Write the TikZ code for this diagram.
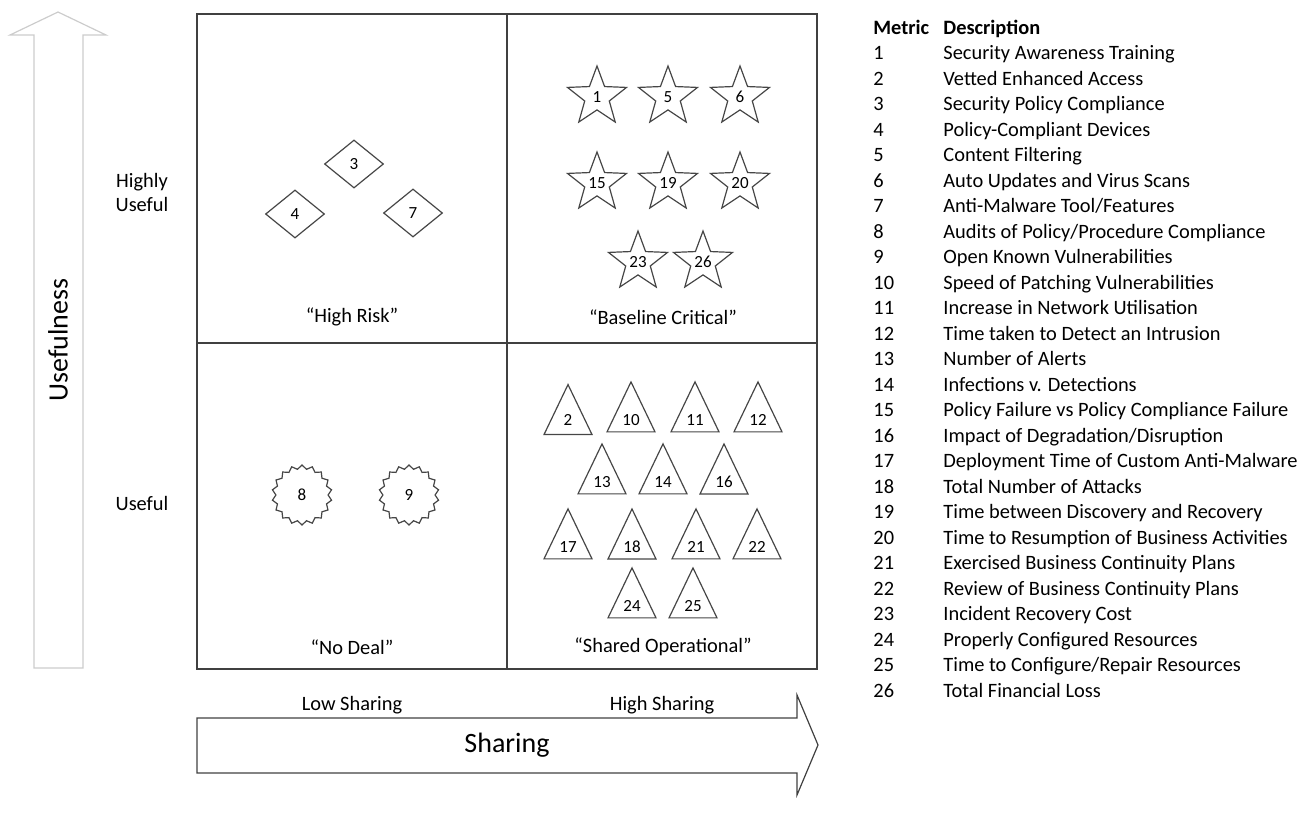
\documentclass[tikz,border=0pt]{standalone}
\usepackage{fontspec}
\setmainfont{Carlito}
\usepackage{tikz}
\usetikzlibrary{shapes.geometric}
\definecolor{gridgray}{RGB}{64,64,64}
\definecolor{shapegray}{RGB}{70,70,70}

\tikzset{
  metric/.style={draw=shapegray, line width=0.6pt, inner sep=0pt, font=\fontsize{8.5}{9}\selectfont},
  starmetric/.style={metric, star, star points=5, star point ratio=2.4, minimum size=31pt},
  diamondmetric/.style={metric, diamond, minimum width=29.5pt, minimum height=24pt},
  sealmetric/.style={metric, star, star points=18, star point ratio=1.15, minimum size=30pt},
  trimetric/.style={metric, isosceles triangle, isosceles triangle stretches, shape border rotate=90,
    minimum width=24pt, minimum height=25pt},
  label/.style={font=\fontsize{10.2}{12}\selectfont, align=center},
  legend/.style={font=\fontsize{10.2}{12}\selectfont, anchor=base west, inner sep=0pt}
}

\begin{document}
\begin{tikzpicture}[x=0.5pt, y=-0.5pt]
  \useasboundingbox (0,0) rectangle (1312,820);

  % Usefulness arrow
  \draw[gray!40, line width=0.6pt] (34,668) -- (34,35) -- (10,35) -- (58,12) -- (106,35) -- (83,35) -- (83,668) -- cycle;
  \node[rotate=90, font=\fontsize{14}{16}\selectfont] (usefulness) at (58,340) {Usefulness};

  % Sharing arrow
  \draw[gridgray, line width=0.6pt] (197,718) -- (797,718) -- (797,695) -- (818,745) -- (797,795) -- (797,773) -- (197,773) -- cycle;
  \node[font=\fontsize{14}{16}\selectfont] (sharing) at (507,745) {Sharing};

  % Quadrants
  \draw[gridgray, line width=0.7pt] (197,14) rectangle (817,669);
  \draw[gridgray, line width=0.7pt] (507,14) -- (507,669);
  \draw[gridgray, line width=0.7pt] (197,343) -- (817,343);

  % Axis labels
  \node[label] (highuse) at (142,192) {Highly\\Useful};
  \node[label] (use) at (142,503) {Useful};
  \node[label] (lowshare) at (352,705) {Low Sharing};
  \node[label] (highshare) at (662,705) {High Sharing};

  % Quadrant names
  \node[label] (highrisk) at (352,317) {“High Risk”};
  \node[label] (baseline) at (663,317) {“Baseline Critical”};
  \node[label] (nodeal) at (352,647) {“No Deal”};
  \node[label] (sharedop) at (663,647) {“Shared Operational”};

  % High Risk
  \node[diamondmetric] (m3) at (354,164) {3};
  \node[diamondmetric] (m4) at (295,214) {4};
  \node[diamondmetric] (m7) at (413,213) {7};

  % Baseline Critical
  \node[starmetric] (m1) at (597,97) {1};
  \node[starmetric] (m5) at (668,97) {5};
  \node[starmetric] (m6) at (740,97) {6};
  \node[starmetric] (m15) at (597,183) {15};
  \node[starmetric] (m19) at (668,183) {19};
  \node[starmetric] (m20) at (740,183) {20};
  \node[starmetric] (m23) at (638,262) {23};
  \node[starmetric] (m26) at (703,262) {26};

  % No Deal
  \node[sealmetric] (m8) at (302,495) {8};
  \node[sealmetric] (m9) at (409,495) {9};

  % Shared Operational
  \node[trimetric] (m2) at (568,420) {2};
  \node[trimetric] (m10) at (631,420) {10};
  \node[trimetric] (m11) at (695,420) {11};
  \node[trimetric] (m12) at (758,420) {12};
  \node[trimetric] (m13) at (602,482) {13};
  \node[trimetric] (m14) at (663,482) {14};
  \node[trimetric] (m16) at (724,482) {16};
  \node[trimetric] (m17) at (568,547) {17};
  \node[trimetric] (m18) at (632,547) {18};
  \node[trimetric] (m21) at (696,547) {21};
  \node[trimetric] (m22) at (757,547) {22};
  \node[trimetric] (m24) at (632,606) {24};
  \node[trimetric] (m25) at (693,606) {25};

  % Legend
  \node[legend, font=\fontsize{10.2}{12}\bfseries] (metrichead) at (873,34) {Metric};
  \node[legend, font=\fontsize{10.2}{12}\bfseries] (deschead) at (943,34) {Description};
  \foreach \d [count=\n] in {Security Awareness Training, Vetted Enhanced Access,
      Security Policy Compliance, Policy-Compliant Devices, Content Filtering,
      Auto Updates and Virus Scans, Anti-Malware Tool/Features,
      Audits of Policy/Procedure Compliance, Open Known Vulnerabilities,
      Speed of Patching Vulnerabilities, Increase in Network Utilisation,
      Time taken to Detect an Intrusion, Number of Alerts, Infections v. Detections,
      Policy Failure vs Policy Compliance Failure, Impact of Degradation/Disruption,
      Deployment Time of Custom Anti-Malware, Total Number of Attacks,
      Time between Discovery and Recovery, Time to Resumption of Business Activities,
      Exercised Business Continuity Plans, Review of Business Continuity Plans,
      Incident Recovery Cost, Properly Configured Resources,
      Time to Configure/Repair Resources, Total Financial Loss} {
    \node[legend] (num\n) at (873,34+\n*25.5) {\n};
    \node[legend] (desc\n) at (943,34+\n*25.5) {\d};
  }
\end{tikzpicture}
\end{document}
